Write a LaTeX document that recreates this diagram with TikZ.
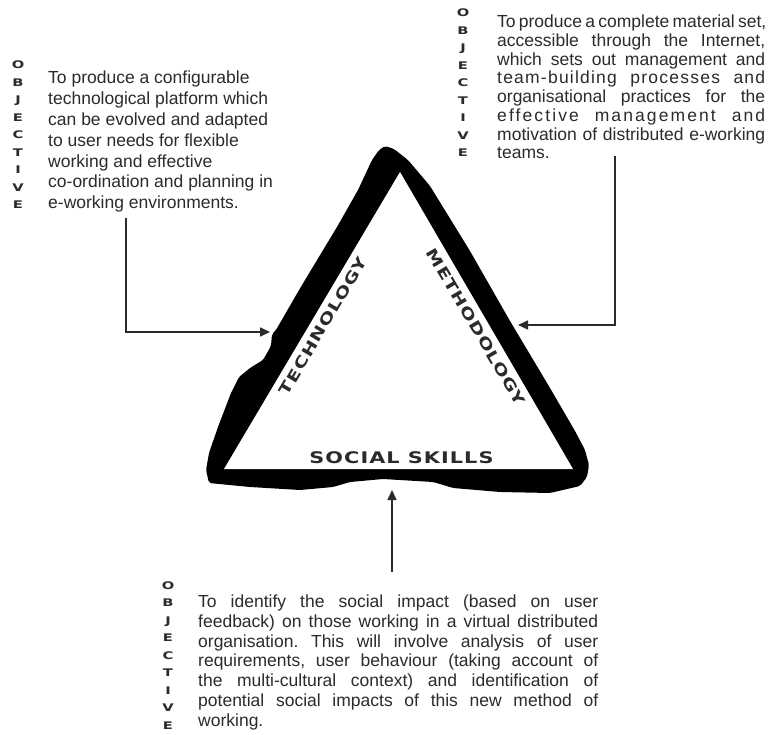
\documentclass[tikz,border=0pt]{standalone}
\usepackage{fontspec}
\setmainfont{Liberation Sans}
\newfontfamily\labfont[LetterSpace=5]{DejaVu Sans}
\newfontfamily\objfont{DejaVu Sans}
\usetikzlibrary{arrows.meta}
\newcommand{\jline}[2]{\makebox[#1][s]{#2}}
\definecolor{ink}{HTML}{2B2B2B}
\frenchspacing
\tikzset{
  body/.style={inner sep=0pt, anchor=north west, align=left, text=ink},
  objcol/.style={inner sep=0pt, anchor=north, align=center, text=ink,
    font=\objfont\bfseries\fontsize{10.5}{17.5}\selectfont},
  arr/.style={draw=ink, line width=1.6pt, -{Triangle[length=10pt,width=9pt]}},
  tlabel/.style={inner sep=0pt, text=ink},
}
\newcommand{\objword}{\scalebox{1.4}[1]{O}\\\scalebox{1.4}[1]{B}\\\scalebox{1.4}[1]{J}\\\scalebox{1.4}[1]{E}\\\scalebox{1.4}[1]{C}\\\scalebox{1.4}[1]{T}\\\scalebox{1.4}[1]{I}\\\scalebox{1.4}[1]{V}\\\scalebox{1.4}[1]{E}}
\begin{document}
\begin{tikzpicture}[x=1pt,y=-1pt]
\useasboundingbox (0,0) rectangle (770,735);
\fill[white] (0,0) rectangle (770,735);

% triangle band
\fill[black, rounded corners=2pt]
 (385,146) -- (394,149) -- (408,160) -- (430,186) -- (470,251) -- (510,321)
 -- (550,388) -- (575,431) -- (585,450) -- (589,465) -- (587,477) -- (580,486)
 -- (550,493) -- (500,492) -- (453,488) -- (440,484) -- (433,482) -- (383,479)
 -- (350,482) -- (333,487) -- (300,490) -- (250,487) -- (209,483) -- (206,470)
 -- (209,453) -- (218,427) -- (231,393) -- (239,377) -- (250,368) -- (263,360)
 -- (271,346) -- (272,334) -- (276,330) -- (295,297) -- (305,280) -- (337,227)
 -- (358,190) -- (372,160) -- (379,150) -- cycle;
\fill[white] (400,172) -- (573,469) -- (224,469) -- cycle;

\node[tlabel, rotate=59.4] (tech) at (323,326)
  {\scalebox{1.3}[1]{\labfont\bfseries\fontsize{15}{15}\selectfont TECHNOLOGY}};
\node[tlabel, rotate=-59.5] (meth) at (476,327)
  {\scalebox{1.3}[1]{\labfont\bfseries\fontsize{15}{15}\selectfont METHODOLOGY}};
\node[tlabel] (soc) at (401.5,458)
  {\scalebox{1.3}[1]{\labfont\bfseries\fontsize{16}{16}\selectfont SOCIAL SKILLS}};

% left objective
\node[objcol] (obj1) at (18,61) {\objword};
\node[body, font=\fontsize{17.5}{20.8}\selectfont] (txt1) at (48,71)
 {To produce a configurable\\
  technological platform which\\
  can be evolved and adapted\\
  to user needs for flexible\\
  working and effective\\
  co-ordination and planning in\\
  e-working environments.};

% right objective
\node[objcol] (obj2) at (463,9) {\objword};
\node[body, font=\fontsize{17.5}{18.7}\selectfont] (txt2) at (497,15)
 {\jline{268pt}{To produce a complete material set,}\\
  \jline{268pt}{accessible through the Internet,}\\
  \jline{268pt}{which sets out management and}\\
  \jline{268pt}{\addfontfeatures{LetterSpace=7}team-building processes and}\\
  \jline{268pt}{organisational practices for the}\\
  \jline{268pt}{\addfontfeatures{LetterSpace=12}effective management and}\\
  \jline{268pt}{motivation of distributed e-working}\\
  teams.};

% bottom objective
\node[objcol] (obj3) at (168,581) {\objword};
\node[body, font=\fontsize{17.5}{19.7}\selectfont] (txt3) at (198,595)
 {\jline{400pt}{To identify the social impact (based on user}\\
  \jline{400pt}{feedback) on those working in a virtual distributed}\\
  \jline{400pt}{organisation. This will involve analysis of user}\\
  \jline{400pt}{requirements, user behaviour (taking account of}\\
  \jline{400pt}{the multi-cultural context) and identification of}\\
  \jline{400pt}{potential social impacts of this new method of}\\
  working.};

% arrows
\coordinate (lstart) at (126,218);
\coordinate (ltip) at (270,332);
\coordinate (rstart) at (615,156);
\coordinate (rtip) at (518,325);
\coordinate (bstart) at (392,572);
\coordinate (btip) at (392,490);
\draw[arr] (lstart) |- (ltip);
\draw[arr] (rstart) |- (rtip);
\draw[arr] (bstart) -- (btip);
\end{tikzpicture}
\end{document}
